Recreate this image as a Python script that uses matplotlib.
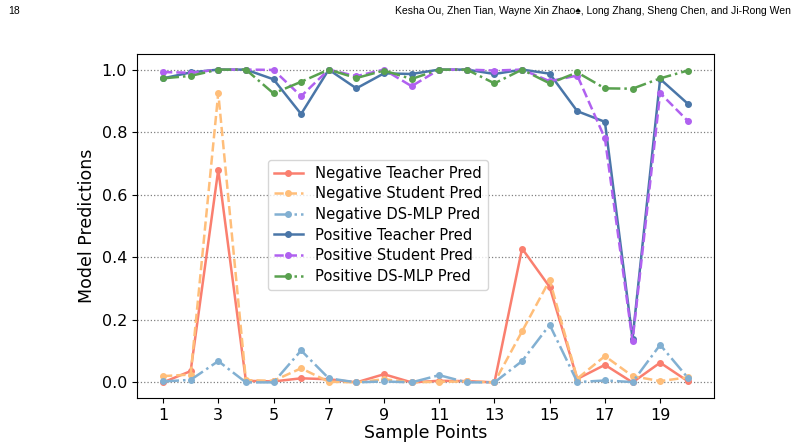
import matplotlib
matplotlib.use("Agg")
import matplotlib.pyplot as plt
import numpy as np

# sample indices
samples = np.arange(1, 21)

# negative samples
neg_teacher = [0.0, 0.036, 0.68, 0.005, 0.003, 0.013, 0.01, 0.0, 0.026, 0.0,
               0.005, 0.004, 0.0, 0.428, 0.305, 0.011, 0.056, 0.0, 0.063, 0.004]
neg_student = [0.02, 0.025, 0.925, 0.007, 0.005, 0.045, 0.002, 0.0, 0.01, 0.0,
               0.002, 0.003, 0.0, 0.163, 0.327, 0.012, 0.084, 0.02, 0.004, 0.016]
neg_dsmlp = [0.003, 0.008, 0.068, 0.0, 0.0, 0.102, 0.013, 0.0, 0.003, 0.0,
             0.023, 0.0, 0.0, 0.068, 0.184, 0.001, 0.006, 0.001, 0.12, 0.015]

# positive samples
pos_teacher = [0.972, 0.991, 1.0, 1.0, 0.969, 0.858, 1.0, 0.94, 0.988, 0.986,
               1.0, 1.0, 0.986, 1.0, 0.987, 0.867, 0.833, 0.14, 0.97, 0.891]
pos_student = [0.992, 0.99, 1.0, 1.0, 0.999, 0.915, 1.0, 0.979, 1.0, 0.947,
               1.0, 1.0, 0.997, 1.0, 0.963, 0.981, 0.78, 0.133, 0.925, 0.836]
pos_dsmlp = [0.972, 0.98, 1.0, 1.0, 0.924, 0.961, 1.0, 0.973, 0.997, 0.97,
             1.0, 1.0, 0.956, 1.0, 0.956, 0.991, 0.94, 0.939, 0.972, 0.997]

series = [
    ("Negative Teacher Pred", neg_teacher, "#FA7F6F", "-"),
    ("Negative Student Pred", neg_student, "#FFBE7A", "--"),
    ("Negative DS-MLP Pred", neg_dsmlp, "#82B0D2", "-."),
    ("Positive Teacher Pred", pos_teacher, "#4A76A8", "-"),
    ("Positive Student Pred", pos_student, "#B061F0", "--"),
    ("Positive DS-MLP Pred", pos_dsmlp, "#59A14F", "-."),
]

fig = plt.figure(figsize=(8, 4.46), dpi=100)
ax = fig.add_axes([0.171, 0.1076, 0.7215, 0.7714])

for label, vals, color, ls in series:
    ax.plot(samples, vals, linestyle=ls, color=color, marker="o",
            markersize=4, linewidth=1.8, label=label)

ax.set_ylim(-0.05, 1.05)
ax.set_xticks(np.arange(1, 21, 2))
ax.set_yticks(np.arange(0, 1.01, 0.2))
ax.yaxis.grid(True, linestyle=":", color="gray", linewidth=0.9)
ax.tick_params(labelsize=11.5)
ax.set_xlabel("Sample Points", fontsize=12.5, labelpad=1)
ax.set_ylabel("Model Predictions", fontsize=12.5)

ax.legend(loc="upper left", bbox_to_anchor=(0.227, 0.692), borderaxespad=0,
          fontsize=10.6, labelspacing=0.38, framealpha=0.8)

# page header
head_font = ["Liberation Sans", "DejaVu Sans"]
fig.text(0.01, 0.975, "18", fontsize=7.5, family=head_font,
         va="center", ha="left")
fig.text(0.988, 0.975,
         "Kesha Ou, Zhen Tian, Wayne Xin Zhao\u2660, Long Zhang, Sheng Chen, and Ji-Rong Wen",
         fontsize=7.5, family=head_font, va="center", ha="right")

fig.savefig("out.png", dpi=100)
